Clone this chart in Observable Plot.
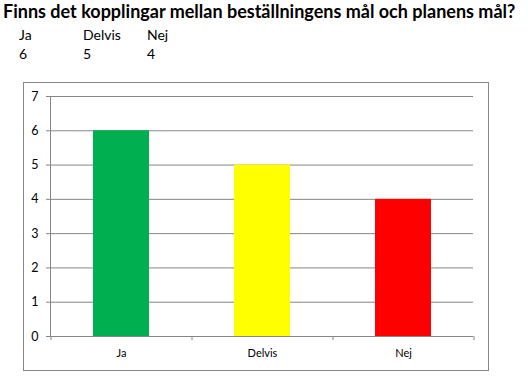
<!DOCTYPE html>
<html><head><meta charset="utf-8">
<script src="https://cdn.jsdelivr.net/npm/d3@7"></script>
<script src="https://cdn.jsdelivr.net/npm/@observablehq/plot@0.6"></script>
<style>
body{margin:0;background:#fff;width:528px;height:378px;position:relative;overflow:hidden;font-family:Lato,"Open Sans",sans-serif;color:#000}
#title{position:absolute;left:3px;top:1px;font-weight:bold;font-size:17px;line-height:20px;white-space:nowrap}
#table{position:absolute;left:19px;top:25px;border-collapse:collapse;font-size:14px}
#table td{padding:0;width:64px;height:19px;vertical-align:middle;text-align:left}
#chart{position:absolute;left:23px;top:82px;border:1px solid #888;width:464px;height:287px;background:#fff}
#chart svg{display:block}
</style></head><body>
<div id="title"></div>
<table id="table"><tbody></tbody></table>
<div id="chart"></div>
<script>
const title = "Finns det kopplingar mellan beställningens mål och planens mål?";
const categories = ["Ja", "Delvis", "Nej"];
const values = [6, 5, 4];
const colors = ["#00B050", "#FFFF00", "#FF0000"];
const yTicks = [0, 1, 2, 3, 4, 5, 6, 7];

// Title, fitted to the reference width
const t = document.getElementById("title");
t.textContent = title;
const ctx = document.createElement("canvas").getContext("2d");
ctx.font = "bold 17px Lato";
const w = ctx.measureText(title).width;
t.style.fontSize = (17 * 513 / w).toFixed(2) + "px";

// Small table above the chart
const tb = document.querySelector("#table tbody");
[categories, values].forEach(row => {
  const tr = document.createElement("tr");
  row.forEach(v => { const td = document.createElement("td"); td.textContent = v; tr.appendChild(td); });
  tb.appendChild(tr);
});

const data = categories.map((c, i) => ({category: c, value: values[i]}));
const gray = "#868686";
const plot = Plot.plot({
  width: 464, height: 287,
  marginLeft: 26, marginRight: 15, marginTop: 13, marginBottom: 34,
  style: {fontFamily: "Lato, sans-serif", fontSize: "12px", color: "#000", background: "#fff"},
  x: {domain: categories, paddingInner: 0.603, paddingOuter: 0.3015, label: null},
  y: {domain: [0, 7], label: null},
  color: {domain: categories, range: colors},
  marks: [
    Plot.ruleY(yTicks, {stroke: gray, strokeOpacity: 1}),
    Plot.barY(data, {x: "category", y: "value", fill: "category"}),
    Plot.frame({anchor: "left", stroke: gray, strokeOpacity: 1}),
    Plot.ruleX(categories, {x: d => d, dx: -70.5, y1: 0, y2: -0.12, stroke: gray}),
    Plot.ruleX(categories.slice(-1), {x: d => d, dx: 70.5, y1: 0, y2: -0.12, stroke: gray}),
    Plot.axisY({ticks: yTicks, tickFormat: d3.format("d"), tickSize: 4, tickPadding: 8, stroke: gray, strokeOpacity: 1, fontSize: 12.5}),
    Plot.axisX({tickSize: 0, tickPadding: 13, fontSize: 11})
  ]
});
document.getElementById("chart").appendChild(plot);
</script>
</body></html>
